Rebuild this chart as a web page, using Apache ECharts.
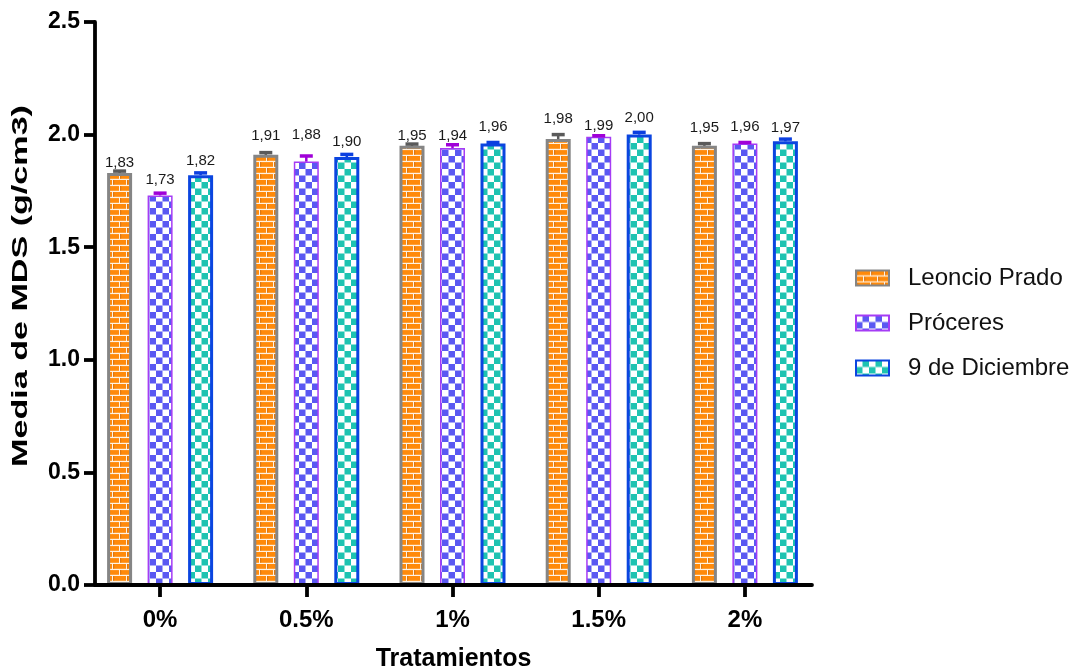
<!DOCTYPE html>
<html>
<head>
<meta charset="utf-8">
<script src="https://cdn.jsdelivr.net/npm/echarts@6/dist/echarts.min.js"></script>
<style>
  html, body { margin: 0; padding: 0; background: #fff; }
  #chart { width: 1084px; height: 669px; }
</style>
</head>
<body>
<div id="chart"></div>
<script>
// Treatments on the x axis
const categories = ['0%', '0.5%', '1%', '1.5%', '2%'];
const seriesNames = ['Leoncio Prado', 'Próceres', '9 de Diciembre'];

// Mean MDS (g/cm3) per treatment
const leoncioPrado = [1.83, 1.91, 1.95, 1.98, 1.95];
const proceres     = [1.73, 1.88, 1.94, 1.99, 1.96];
const nueveDic     = [1.82, 1.90, 1.96, 2.00, 1.97];

// Standard deviation per treatment
const leoncioPradoSd = [0.008, 0.010, 0.008, 0.020, 0.010];
const proceresSd     = [0.010, 0.025, 0.015, 0.005, 0.005];
const nueveDicSd     = [0.010, 0.012, 0.005, 0.010, 0.010];

// Y axis range and tick step
const yMin = 0, yMax = 2.5, yStep = 0.5;

const xTitle = 'Tratamientos';
const yTitle = 'Media de MDS (g/cm3)';

// ---- layout / style (not data) ----
const FONT = '"Liberation Sans", Arial, Helvetica, sans-serif';
const BAR_W = 25;
const BAR_GAP_PX = 15.5;
// pixel distance between each bar top and its value label
const labelDistance = [
  [3, 12, 3, 13, 11],
  [8, 19, 5, 3, 9],
  [7, 8, 9, 9, 6]
];

function makeTile(w, h, draw) {
  const c = document.createElement('canvas');
  c.width = w; c.height = h;
  draw(c.getContext('2d'));
  return c;
}
// orange brick wall
const brickTile = makeTile(14, 12, g => {
  g.fillStyle = '#ff8a0a'; g.fillRect(0, 0, 14, 12);
  g.fillStyle = '#fff2e2';
  g.fillRect(0, 4.8, 14, 1.3);
  g.fillRect(0, 10.8, 14, 1.3);
  g.fillRect(0, 0, 1.3, 5);
  g.fillRect(7, 6, 1.3, 5);
  g.fillStyle = '#c86400';
  g.fillRect(1.3, 0, 0.8, 4.8);
  g.fillRect(8.3, 6, 0.8, 4.8);
});
function checker(color) {
  return makeTile(13, 13, g => {
    g.fillStyle = '#ffffff'; g.fillRect(0, 0, 13, 13);
    g.fillStyle = color;
    g.fillRect(6.5, 0, 6.5, 6.5);
    g.fillRect(0, 6.5, 6.5, 6.5);
  });
}
const styles = [
  { fill: { image: brickTile, repeat: 'repeat' }, border: '#858585', bw: 3, err: '#5a5a5a' },
  { fill: { image: checker('#5a58f2'), repeat: 'repeat' }, border: '#a53cf5', bw: 1.5, err: '#a000d8' },
  { fill: { image: checker('#1ec3b1'), repeat: 'repeat' }, border: '#0b45e0', bw: 3, err: '#0b3fe0' }
];
const means = [leoncioPrado, proceres, nueveDic];
const sds = [leoncioPradoSd, proceresSd, nueveDicSd];

const fmt = v => v.toFixed(2).replace('.', ',');

const barSeries = seriesNames.map((name, s) => ({
  name,
  type: 'bar',
  xAxisIndex: 1,
  yAxisIndex: 1,
  barWidth: BAR_W,
  barGap: (BAR_GAP_PX / BAR_W * 100) + '%',
  itemStyle: { color: styles[s].fill, borderColor: styles[s].border, borderWidth: styles[s].bw },
  label: {
    show: true, position: 'top', fontSize: 15, color: '#1a1a1a', fontFamily: FONT,
    formatter: p => fmt(p.value)
  },
  data: means[s].map((v, i) => ({ value: v, label: { distance: labelDistance[s][i] } })),
  z: 2
}));

const errSeries = seriesNames.map((name, s) => ({
  name: name + ' SD',
  type: 'custom',
  xAxisIndex: 1,
  yAxisIndex: 1,
  z: 5,
  silent: true,
  renderItem: (params, api) => {
    const ci = api.value(0), m = api.value(1), e = api.value(2);
    const base = api.coord([ci, m]);
    const top = api.coord([ci, m + e]);
    const x = base[0] + (s - 1) * (BAR_W + BAR_GAP_PX);
    return {
      type: 'group',
      children: [
        { type: 'line', shape: { x1: x, y1: base[1], x2: x, y2: top[1] }, style: { stroke: styles[s].err, lineWidth: 2.5 } },
        { type: 'line', shape: { x1: x - 6.5, y1: top[1], x2: x + 6.5, y2: top[1] }, style: { stroke: styles[s].err, lineWidth: 3.5 } }
      ]
    };
  },
  data: means[s].map((v, i) => [i, v, sds[s][i]])
}));

const chart = echarts.init(document.getElementById('chart'), null, { renderer: 'canvas' });
const AXIS_W = 3.8;
chart.setOption({
  backgroundColor: '#ffffff',
  animation: false,
  textStyle: { fontFamily: FONT },
  grid: [
    { left: 95, right: 272, top: 22, bottom: 84, outerBoundsMode: 'none', containLabel: false },   // frame: axis lines
    { left: 87, width: 731, top: 22, bottom: 84, outerBoundsMode: 'none', containLabel: false }    // plotting band for bars
  ],
  legend: {
    data: seriesNames,
    orient: 'vertical',
    left: 850,
    top: 261,
    itemWidth: 33,
    itemHeight: 15,
    itemGap: 21,
    icon: 'rect',
    textStyle: { fontSize: 24, color: '#111', fontFamily: FONT, padding: [0, 0, 0, 14] }
  },
  xAxis: [
    {
      gridIndex: 0, type: 'value', min: 0, max: 1, z: 10,
      axisLine: { show: true, lineStyle: { color: '#000', width: AXIS_W } },
      axisTick: { show: false }, axisLabel: { show: false }, splitLine: { show: false },
      name: xTitle, nameLocation: 'middle', nameGap: 62,
      nameTextStyle: { fontSize: 25, fontWeight: 'bold', color: '#000', fontFamily: FONT }
    },
    {
      gridIndex: 1, type: 'category', data: categories, z: 10,
      axisLine: { show: false },
      axisTick: { show: true, alignWithLabel: true, length: 12, lineStyle: { color: '#000', width: AXIS_W } },
      axisLabel: { fontSize: 24, fontWeight: 'bold', color: '#000', margin: 23, fontFamily: FONT },
      splitLine: { show: false }
    }
  ],
  yAxis: [
    {
      gridIndex: 0, type: 'value', min: yMin, max: yMax, interval: yStep, z: 10,
      axisLine: { show: true, lineStyle: { color: '#000', width: AXIS_W } },
      axisTick: { show: true, length: 11, lineStyle: { color: '#000', width: AXIS_W } },
      axisLabel: { fontSize: 23, fontWeight: 'bold', color: '#000', margin: 15, fontFamily: FONT,
                   formatter: v => v.toFixed(1) },
      splitLine: { show: false }
    },
    {
      gridIndex: 1, type: 'value', min: yMin, max: yMax, interval: yStep, show: false
    }
  ],
  // y-axis title, drawn elongated along its reading direction
  graphic: [{
    type: 'text',
    x: 21, y: 286,
    rotation: Math.PI / 2,
    scaleX: 1.55,
    style: {
      text: yTitle,
      font: 'bold 22px ' + FONT,
      fill: '#000',
      align: 'center',
      verticalAlign: 'middle'
    }
  }],
  series: [...barSeries, ...errSeries]
});
</script>
</body>
</html>
